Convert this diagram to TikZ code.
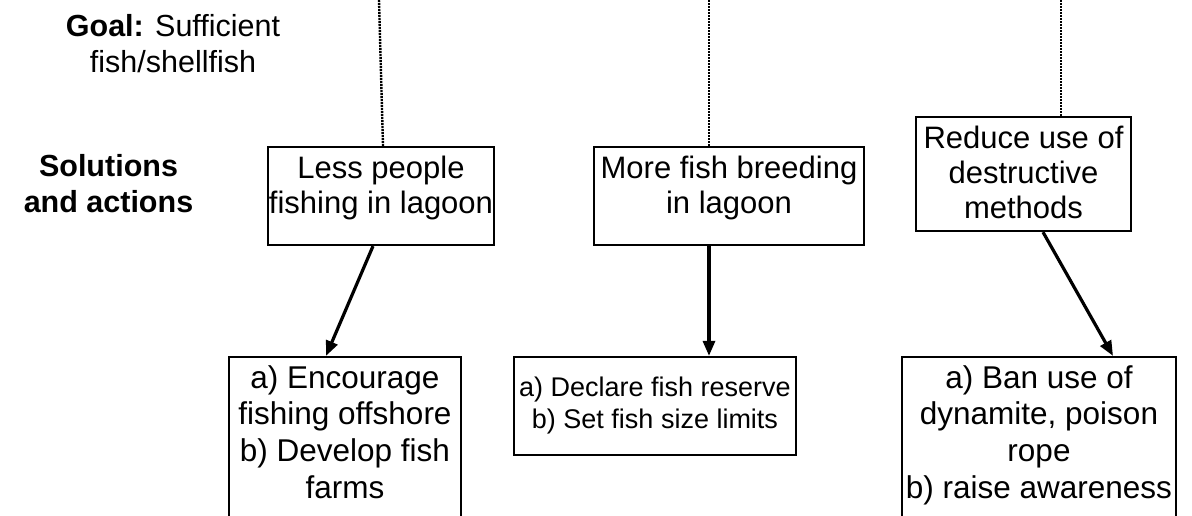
\documentclass[tikz,border=0pt]{standalone}
\usepackage{fontspec}
\setmainfont{Liberation Sans}
\usetikzlibrary{arrows.meta}
\newcommand{\tbc}[1]{\begin{tabular}[t]{@{}c@{}}#1\end{tabular}}
\tikzset{
  boxshape/.style={draw=black, line width=2.2pt, rectangle, inner sep=0pt},
  toptext/.style={anchor=base, inner sep=0pt, font=\fontsize{31}{35}\selectfont},
  bottext/.style={anchor=base, inner sep=0pt, font=\fontsize{31.5}{36.7}\selectfont},
  smalltext/.style={anchor=base, inner sep=0pt, font=\fontsize{27}{32}\selectfont},
  sidetext/.style={anchor=base, inner sep=0pt, font=\fontsize{30.5}{35.5}\selectfont},
  arr/.style={line width=3.2pt, -{Triangle[length=15pt,width=12pt]}},
  dots/.style={line width=2.4pt, dash pattern=on 2pt off 1pt, black}
}
\begin{document}
\begin{tikzpicture}[x=1pt,y=-1pt]
\useasboundingbox (0,0) rectangle (1192,515);
\clip (0,0) rectangle (1192,515);
\fill[white] (0,0) rectangle (1192,515);

% side labels
\node[sidetext] (goal) at (173,36.7) {\tbc{\textbf{Goal:} Sufficient\\fish/shellfish}};
\node[sidetext] (sol) at (108.5,176.7) {\tbc{\textbf{Solutions}\\\textbf{and actions}}};

% top boxes
\node[boxshape, minimum width=226, minimum height=98] (b1) at (381,196) {};
\node[toptext] (t1) at (381,178) {\tbc{Less people\\fishing in lagoon}};
\node[boxshape, minimum width=270, minimum height=98] (b2) at (729,196) {};
\node[toptext] (t2) at (729,178) {\tbc{More fish breeding\\in lagoon}};
\node[boxshape, minimum width=215, minimum height=114] (b3) at (1023.5,174) {};
\node[toptext] (t3) at (1023.5,148) {\tbc{Reduce use of\\destructive\\methods}};

% bottom boxes
\node[boxshape, minimum width=232, minimum height=200] (b4) at (345,457) {};
\node[bottext] (t4) at (345,388) {\tbc{a) Encourage\\fishing offshore\\b) Develop fish\\farms}};
\node[boxshape, minimum width=282, minimum height=98] (b5) at (655,406) {};
\node[smalltext] (t5) at (655,396) {\tbc{a) Declare fish reserve\\b) Set fish size limits}};
\node[boxshape, minimum width=274, minimum height=200] (b6) at (1039,457) {};
\node[bottext] (t6) at (1039,388) {\tbc{a) Ban use of\\dynamite, poison\\rope\\b) raise awareness}};

% dotted lines from above
\coordinate (d1) at (379,0);
\coordinate (d2) at (709,0);
\coordinate (d3) at (1061,0);
\draw[dots] (d1) -- ([xshift=2pt]b1.north);
\draw[dots] (d2) -- ([xshift=-20pt]b2.north);
\draw[dots] (d3) -- ([xshift=37.5pt]b3.north);

% arrows
\draw[arr] ([xshift=-8pt]b1.south) -- ([xshift=-19pt]b4.north);
\draw[arr] ([xshift=-20pt]b2.south) -- ([xshift=54pt]b5.north);
\draw[arr] ([xshift=19.5pt]b3.south) -- ([xshift=74pt]b6.north);
\end{tikzpicture}
\end{document}
